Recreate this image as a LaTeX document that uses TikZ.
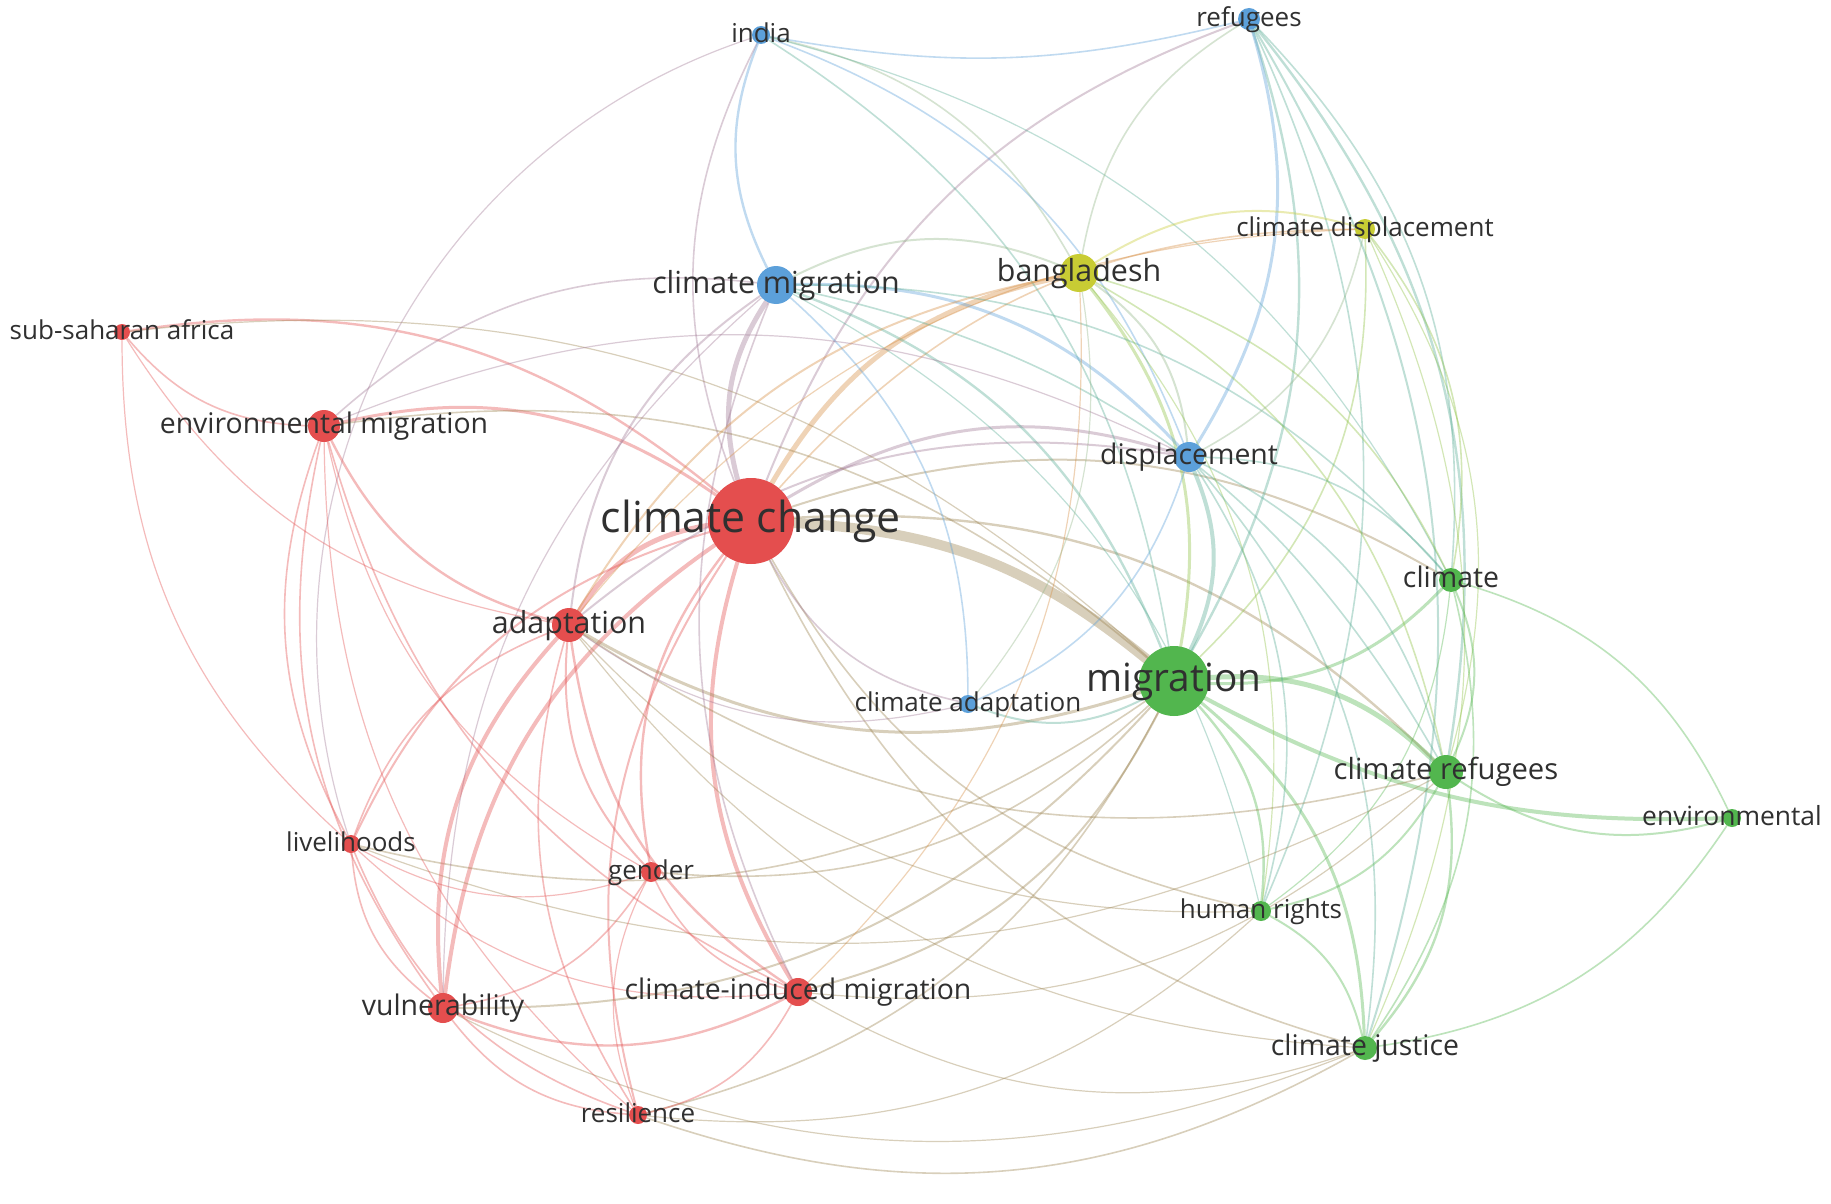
\documentclass[tikz,border=0pt]{standalone}
\usepackage{fontspec}
\setmainfont{Open Sans}
\usetikzlibrary{backgrounds}
\definecolor{cR}{RGB}{228,78,78}
\definecolor{cG}{RGB}{82,182,78}
\definecolor{cB}{RGB}{92,160,218}
\definecolor{cY}{RGB}{200,204,52}
\definecolor{txt}{RGB}{48,48,48}
\def\CX{9.0}\def\CY{6.2}\def\BEND{24}
\tikzset{
  dot/.style={circle, inner sep=0pt, draw=none},
  lbl/.style={inner sep=0pt, anchor=base, text=txt},
  edge/.style={draw opacity=0.38, line cap=round},
}
\newcommand\VNode[5]{%
  \expandafter\gdef\csname X#1\endcsname{#2}%
  \expandafter\gdef\csname Y#1\endcsname{#3}%
  \expandafter\gdef\csname C#1\endcsname{#5}%
  \node[dot, fill=#5, minimum size=#4pt] (#1) at (#2,#3) {};%
}
\newcommand\VLab[3]{%
  \node[lbl, font=\fontsize{#2}{#2}\selectfont, yshift={-0.27*#2pt}] (l-#1) at (#1.center) {#3};%
}
\newcommand\VEdge[4][0]{%
  \pgfmathsetmacro\ang{#1==0 ? ((((\csname X#3\endcsname)-(\csname X#2\endcsname))*(\CY-(\csname Y#2\endcsname)) - ((\csname Y#3\endcsname)-(\csname Y#2\endcsname))*(\CX-(\csname X#2\endcsname))) > 0 ? \BEND : -\BEND) : #1}%
  \edef\ecol{\csname C#2\endcsname!50!\csname C#3\endcsname}%
  \draw[edge, draw=\ecol, line width=#4pt] (#2) to[bend left=\ang] (#3);%
}
\begin{document}
\begin{tikzpicture}[x=50pt, y=-50pt]
\useasboundingbox (0,0) rectangle (18.31,12.04);
% nodes
\VNode{india}{7.61}{0.35}{9}{cB}
\VNode{refugees}{12.49}{0.19}{11}{cB}
\VNode{climdisp}{13.65}{2.29}{10}{cY}
\VNode{bangladesh}{10.79}{2.73}{19}{cY}
\VNode{climmig}{7.76}{2.85}{19}{cB}
\VNode{ssa}{1.22}{3.32}{8}{cR}
\VNode{envmig}{3.24}{4.26}{16}{cR}
\VNode{displacement}{11.89}{4.57}{15}{cB}
\VNode{cc}{7.51}{5.21}{43}{cR}
\VNode{climate}{14.51}{5.80}{12}{cG}
\VNode{adaptation}{5.69}{6.25}{17}{cR}
\VNode{mig}{11.74}{6.81}{35}{cG}
\VNode{climadapt}{9.68}{7.04}{9}{cB}
\VNode{climref}{14.46}{7.72}{17}{cG}
\VNode{environmental}{17.32}{8.18}{9}{cG}
\VNode{livelihoods}{3.51}{8.44}{9}{cR}
\VNode{gender}{6.51}{8.72}{10}{cR}
\VNode{humanrights}{12.61}{9.11}{10}{cG}
\VNode{vulnerability}{4.43}{10.08}{15}{cR}
\VNode{cim}{7.98}{9.92}{14}{cR}
\VNode{climjustice}{13.65}{10.48}{12}{cG}
\VNode{resilience}{6.38}{11.15}{9}{cR}
% labels
\VLab{india}{13}{india}
\VLab{refugees}{13}{refugees}
\VLab{climdisp}{13}{climate displacement}
\VLab{bangladesh}{15.2}{bangladesh}
\VLab{climmig}{15.2}{climate migration}
\VLab{ssa}{13}{sub-saharan africa}
\VLab{envmig}{14.2}{environmental migration}
\VLab{displacement}{14.2}{displacement}
\VLab{cc}{21.4}{climate change}
\VLab{climate}{14.2}{climate}
\VLab{adaptation}{15.2}{adaptation}
\VLab{mig}{19.4}{migration}
\VLab{climadapt}{13}{climate adaptation}
\VLab{climref}{14.6}{climate refugees}
\VLab{environmental}{13.2}{environmental}
\VLab{livelihoods}{13}{livelihoods}
\VLab{gender}{13}{gender}
\VLab{humanrights}{13}{human rights}
\VLab{vulnerability}{14.2}{vulnerability}
\VLab{cim}{14.2}{climate-induced migration}
\VLab{climjustice}{14.2}{climate justice}
\VLab{resilience}{13}{resilience}
\begin{pgfonlayer}{background}
\fill[white] (0,0) rectangle (18.31,12.04);
% climate change
\VEdge[18]{cc}{mig}{5}
\VEdge{cc}{climmig}{2.5}
\VEdge{cc}{bangladesh}{2.5}
\VEdge{cc}{adaptation}{2.5}
\VEdge{cc}{vulnerability}{2}
\VEdge{cc}{cim}{2}
\VEdge{cc}{displacement}{1.5}
\VEdge{cc}{envmig}{1.5}
\VEdge{cc}{ssa}{1.2}
\VEdge{cc}{gender}{1.2}
\VEdge{cc}{livelihoods}{1}
\VEdge{cc}{resilience}{1}
\VEdge{cc}{climref}{1.2}
\VEdge{cc}{climate}{1}
\VEdge{cc}{refugees}{1}
\VEdge{cc}{india}{0.8}
\VEdge{cc}{climdisp}{0.8}
\VEdge{cc}{humanrights}{0.8}
\VEdge{cc}{climjustice}{0.8}
\VEdge{cc}{climadapt}{0.8}
% migration
\VEdge{mig}{climref}{2.5}
\VEdge{mig}{displacement}{2}
\VEdge{mig}{climate}{1.5}
\VEdge[-15]{mig}{environmental}{2}
\VEdge{mig}{humanrights}{1.2}
\VEdge{mig}{climjustice}{1.5}
\VEdge{mig}{refugees}{1.2}
\VEdge{mig}{bangladesh}{1.5}
\VEdge{mig}{climmig}{1.2}
\VEdge{mig}{india}{0.8}
\VEdge{mig}{adaptation}{1.5}
\VEdge{mig}{envmig}{0.8}
\VEdge{mig}{cim}{1}
\VEdge{mig}{vulnerability}{1}
\VEdge{mig}{gender}{0.8}
\VEdge{mig}{livelihoods}{0.8}
\VEdge{mig}{resilience}{0.8}
\VEdge{mig}{climadapt}{1}
\VEdge{mig}{climdisp}{0.8}
\VEdge{mig}{ssa}{0.6}
% climate migration
\VEdge{climmig}{india}{1.2}
\VEdge{climmig}{displacement}{1.5}
\VEdge{climmig}{bangladesh}{1}
\VEdge{climmig}{adaptation}{1}
\VEdge{climmig}{envmig}{0.8}
\VEdge{climmig}{climadapt}{0.8}
\VEdge{climmig}{climref}{0.8}
\VEdge{climmig}{climate}{0.8}
\VEdge{climmig}{humanrights}{0.6}
\VEdge{climmig}{cim}{0.8}
\VEdge{climmig}{vulnerability}{0.6}
% india
\VEdge[-12]{india}{refugees}{0.8}
\VEdge{india}{displacement}{0.8}
\VEdge{india}{bangladesh}{0.8}
\VEdge{india}{climate}{0.6}
\VEdge[-45]{india}{livelihoods}{0.6}
% refugees
\VEdge{refugees}{displacement}{1.5}
\VEdge{refugees}{climref}{1.2}
\VEdge{refugees}{climate}{0.8}
\VEdge{refugees}{humanrights}{0.8}
\VEdge{refugees}{climjustice}{1}
\VEdge{refugees}{bangladesh}{0.8}
% bangladesh
\VEdge{bangladesh}{climdisp}{1}
\VEdge{bangladesh}{displacement}{1}
\VEdge{bangladesh}{climate}{0.8}
\VEdge{bangladesh}{climref}{0.8}
\VEdge{bangladesh}{adaptation}{1}
\VEdge{bangladesh}{humanrights}{0.6}
\VEdge{bangladesh}{cim}{0.6}
\VEdge{bangladesh}{climadapt}{0.6}
% climate displacement
\VEdge{climdisp}{displacement}{0.8}
\VEdge{climdisp}{climate}{0.8}
\VEdge{climdisp}{climref}{0.6}
\VEdge{climdisp}{climjustice}{0.6}
\VEdge{climdisp}{adaptation}{0.6}
% displacement
\VEdge{displacement}{climate}{0.8}
\VEdge{displacement}{climref}{0.8}
\VEdge{displacement}{humanrights}{0.8}
\VEdge{displacement}{climjustice}{0.8}
\VEdge{displacement}{climadapt}{0.8}
\VEdge{displacement}{adaptation}{1}
\VEdge{displacement}{envmig}{0.6}
% climate
\VEdge{climate}{climref}{1}
\VEdge{climate}{environmental}{0.8}
\VEdge{climate}{climjustice}{0.8}
\VEdge{climate}{humanrights}{0.6}
% climate refugees
\VEdge{climref}{environmental}{1}
\VEdge{climref}{humanrights}{1}
\VEdge{climref}{climjustice}{1.2}
\VEdge{climref}{adaptation}{0.8}
\VEdge{climref}{livelihoods}{0.6}
\VEdge{climref}{cim}{0.6}
% others
\VEdge{environmental}{climjustice}{0.8}
\VEdge{humanrights}{climjustice}{1}
\VEdge{humanrights}{resilience}{0.6}
\VEdge{humanrights}{adaptation}{0.6}
\VEdge{climjustice}{resilience}{0.8}
\VEdge{climjustice}{vulnerability}{0.6}
\VEdge{climjustice}{cim}{0.6}
\VEdge{climjustice}{adaptation}{0.6}
\VEdge{adaptation}{envmig}{1.2}
\VEdge{adaptation}{vulnerability}{2}
\VEdge{adaptation}{livelihoods}{0.8}
\VEdge{adaptation}{gender}{1}
\VEdge{adaptation}{cim}{1.2}
\VEdge{adaptation}{resilience}{0.8}
\VEdge{adaptation}{climadapt}{0.6}
\VEdge{adaptation}{ssa}{0.6}
\VEdge{envmig}{ssa}{0.8}
\VEdge{envmig}{livelihoods}{0.8}
\VEdge{envmig}{vulnerability}{0.8}
\VEdge{envmig}{cim}{0.8}
\VEdge{envmig}{gender}{0.6}
\VEdge{envmig}{resilience}{0.6}
\VEdge{livelihoods}{vulnerability}{0.8}
\VEdge{livelihoods}{resilience}{0.8}
\VEdge{livelihoods}{gender}{0.6}
\VEdge{livelihoods}{cim}{0.6}
\VEdge{livelihoods}{ssa}{0.6}
\VEdge{vulnerability}{cim}{1.2}
\VEdge{vulnerability}{resilience}{0.8}
\VEdge{vulnerability}{gender}{0.8}
\VEdge{gender}{cim}{0.8}
\VEdge{gender}{resilience}{0.6}
\VEdge{cim}{resilience}{0.8}
\end{pgfonlayer}
\end{tikzpicture}
\end{document}
